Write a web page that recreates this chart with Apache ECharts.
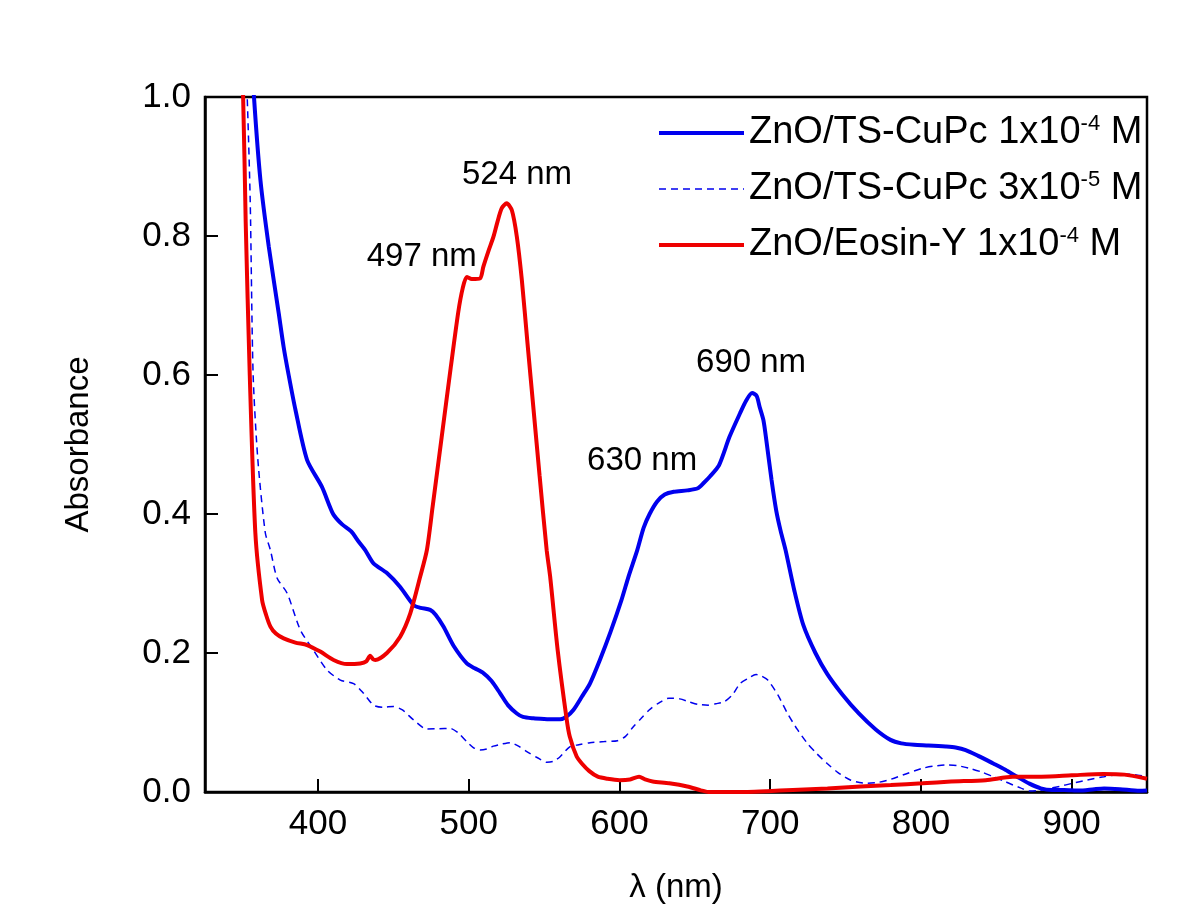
<!DOCTYPE html>
<html>
<head>
<meta charset="utf-8">
<script src="https://cdn.jsdelivr.net/npm/echarts@6/dist/echarts.min.js"></script>
<style>html,body{margin:0;padding:0;background:#fff}#c{width:1200px;height:916px}</style>
</head>
<body>
<div id="c"></div>
<script>
// ---- data (wavelength nm, absorbance) ----
const seriesNames = ['ZnO/TS-CuPc 1x10-4 M', 'ZnO/TS-CuPc 3x10-5 M', 'ZnO/Eosin-Y 1x10-4 M'];
const legendRich = ['ZnO/TS-CuPc 1x10{sup|-4} M', 'ZnO/TS-CuPc 3x10{sup|-5} M', 'ZnO/Eosin-Y 1x10{sup|-4} M'];
const xTicks = [400, 500, 600, 700, 800, 900];
const yTicks = [0, 0.2, 0.4, 0.6, 0.8, 1.0];

const cupc4X = [355, 357.5, 361.8, 367.3, 373.9, 377.2, 380.5, 385, 392.7, 402.6, 410, 416, 422, 427, 431.3, 436.8, 445.7, 454.5, 463.4, 468, 474.4, 478, 483.2, 490, 498.7, 504, 509.7, 515, 520.8, 526, 531.9, 536, 542.9, 550, 556, 560.6, 564.6, 569.4, 575, 580.4, 587, 594, 601.3, 606, 611.8, 616, 620, 625, 630, 636, 645, 652, 656, 660, 666, 673, 680, 684, 688, 691, 693, 695.5, 697.5, 700.9, 704, 707, 710.2, 716, 722, 730, 737.8, 748, 758.8, 770, 779.8, 787, 795.5, 805, 816.5, 823, 829.7, 838, 848, 856, 863.8, 872, 879.5, 887, 895, 905, 915, 921.5, 932, 945, 950];
const cupc4Y = [1.1, 1.0, 0.88, 0.785, 0.689, 0.64, 0.60, 0.55, 0.478, 0.439, 0.40, 0.385, 0.375, 0.36, 0.348, 0.329, 0.315, 0.295, 0.269, 0.265, 0.262, 0.255, 0.238, 0.21, 0.185, 0.178, 0.171, 0.16, 0.142, 0.125, 0.113, 0.108, 0.106, 0.105, 0.1045, 0.1045, 0.108, 0.118, 0.137, 0.156, 0.19, 0.23, 0.276, 0.31, 0.348, 0.38, 0.40, 0.418, 0.428, 0.432, 0.434, 0.437, 0.445, 0.454, 0.47, 0.511, 0.545, 0.563, 0.574, 0.57, 0.554, 0.535, 0.505, 0.449, 0.405, 0.375, 0.348, 0.29, 0.24, 0.20, 0.17, 0.14, 0.113, 0.09, 0.075, 0.07, 0.068, 0.067, 0.0654, 0.064, 0.0604, 0.052, 0.041, 0.032, 0.022, 0.012, 0.0053, 0.003, 0.003, 0.002, 0.004, 0.005, 0.004, 0.0017, 0.002];

const cupc5X = [351, 353, 355, 356.9, 360, 365, 368.4, 372.8, 379.5, 388.3, 397, 406, 414.8, 423.6, 430.2, 436.8, 443, 450, 456, 463.4, 472.2, 480, 487.7, 493, 498.7, 503, 507.5, 512, 516.4, 522, 527.4, 533, 538.5, 545, 551.8, 556, 560.6, 567, 573, 580.4, 590, 598.7, 604, 609.2, 614, 619.7, 626, 632.8, 640, 645.9, 652, 659, 664, 669.6, 675, 680, 685, 690.6, 694, 698.4, 705, 711.5, 718, 724.7, 731, 737.8, 745, 753.5, 764, 772, 779.8, 790, 800.8, 808, 816.5, 824, 832.3, 840, 848, 855, 861.2, 866, 871.7, 878, 884.8, 892, 900.5, 910, 921.5, 934.6, 942, 950];
const cupc5Y = [1.1, 1.0, 0.85, 0.603, 0.48, 0.373, 0.348, 0.308, 0.286, 0.233, 0.204, 0.1755, 0.161, 0.156, 0.142, 0.125, 0.122, 0.123, 0.118, 0.1036, 0.0906, 0.091, 0.0916, 0.085, 0.0724, 0.064, 0.0604, 0.062, 0.066, 0.069, 0.071, 0.066, 0.058, 0.05, 0.0427, 0.044, 0.0508, 0.065, 0.068, 0.071, 0.0725, 0.0738, 0.08, 0.094, 0.105, 0.118, 0.128, 0.135, 0.134, 0.130, 0.126, 0.125, 0.127, 0.130, 0.14, 0.156, 0.163, 0.169, 0.167, 0.161, 0.14, 0.113, 0.09, 0.0699, 0.055, 0.041, 0.028, 0.017, 0.0125, 0.014, 0.0182, 0.026, 0.034, 0.037, 0.039, 0.038, 0.034, 0.029, 0.022, 0.016, 0.010, 0.006, 0.0014, 0.002, 0.005, 0.008, 0.0125, 0.017, 0.022, 0.026, 0.025, 0.022];

const eosinX = [348, 350.3, 352, 354.7, 358.4, 362.9, 365.5, 368.4, 372, 377.2, 385, 392.7, 401.5, 410.3, 419.2, 428, 432, 434.6, 436.5, 438, 445.7, 454.5, 461.2, 467.8, 472.2, 476, 482, 488, 493, 496, 498.7, 502, 507.5, 509.7, 513, 516.4, 519, 521.9, 525.2, 528.6, 531.9, 535.2, 539, 543, 547, 551.7, 554, 559, 565, 567, 571.6, 575, 580, 585.6, 592, 600, 607, 613, 617, 622, 633, 645, 654, 659, 670, 685, 698, 715, 738, 760, 780, 801, 820, 843, 861, 880, 900, 921, 935, 950];
const eosinY = [1.1, 1.0, 0.82, 0.6, 0.373, 0.276, 0.255, 0.238, 0.228, 0.221, 0.215, 0.2115, 0.202, 0.19, 0.184, 0.185, 0.188, 0.196, 0.191, 0.19, 0.2, 0.2235, 0.257, 0.31, 0.348, 0.41, 0.51, 0.61, 0.69, 0.725, 0.741, 0.738, 0.739, 0.756, 0.778, 0.799, 0.82, 0.84, 0.847, 0.837, 0.799, 0.737, 0.645, 0.55, 0.455, 0.348, 0.31, 0.204, 0.104, 0.08, 0.051, 0.041, 0.03, 0.022, 0.019, 0.017, 0.018, 0.022, 0.018, 0.015, 0.0125, 0.008, 0.0024, 0.0, 0.0, 0.0, 0.001, 0.003, 0.005, 0.008, 0.010, 0.0125, 0.015, 0.017, 0.022, 0.022, 0.024, 0.026, 0.025, 0.019];

// peak annotations: [text, nm, absorbance] placed through the axes
const annotText = ['497 nm', '524 nm', '630 nm', '690 nm'];
const annotX = [468.8, 532, 615, 687.3];
const annotY = [0.77, 0.888, 0.476, 0.617];

// ---- chart ----
const FONT = "'Liberation Sans', Arial, Helvetica, sans-serif";
const zip = (xs, ys) => xs.map((x, i) => [x, ys[i]]);
const colors = ['#0000ee', '#0000ee', '#ee0000'];
const widths = [4, 1.5, 4];
const richMap = {};
seriesNames.forEach((n, i) => richMap[n] = legendRich[i]);

const chart = echarts.init(document.getElementById('c'), null, {renderer: 'canvas'});
const annotData = annotText.map((t, i) => ({name: t, coord: [annotX[i], annotY[i]]}));
const annotLabel = {show: true, position: 'inside', formatter: p => p.name, fontFamily: FONT, fontSize: 33, color: '#000'};

chart.setOption({
  animation: false,
  backgroundColor: '#fff',
  textStyle: {fontFamily: FONT},
  grid: {left: 205, right: 53, top: 97, bottom: 124, show: true, borderColor: '#000', borderWidth: 2.5, backgroundColor: 'transparent'},
  legend: {
    orient: 'vertical', left: 652, top: 108,
    itemWidth: 85, itemHeight: 14, itemGap: 16,
    itemStyle: {color: 'rgba(0,0,0,0)', borderWidth: 0, opacity: 0},
    data: seriesNames.map((n, i) => ({name: n, lineStyle: {width: widths[i]}})),
    formatter: n => richMap[n],
    textStyle: {fontFamily: FONT, fontSize: 38, color: '#000', lineHeight: 40,
      rich: {sup: {fontFamily: FONT, fontSize: 22, lineHeight: 20, verticalAlign: 'top', color: '#000'}}}
  },
  xAxis: {
    type: 'value', min: 325, max: 950,
    name: 'λ (nm)', nameLocation: 'middle', nameGap: 79,
    nameTextStyle: {fontFamily: FONT, fontSize: 33, color: '#000'},
    axisLine: {show: true, onZero: false, lineStyle: {color: '#000', width: 2.5}},
    axisTick: {show: true, inside: true, length: 13, lineStyle: {color: '#000', width: 2}, customValues: xTicks},
    axisLabel: {show: true, margin: 15, fontFamily: FONT, fontSize: 35, color: '#000', customValues: xTicks, formatter: v => String(v)},
    splitLine: {show: false}
  },
  yAxis: {
    type: 'value', min: 0, max: 1.0, interval: 0.2,
    name: 'Absorbance', nameLocation: 'middle', nameGap: 110, nameRotate: 90,
    nameTextStyle: {fontFamily: FONT, fontSize: 33, color: '#000'},
    axisLine: {show: true, onZero: false, lineStyle: {color: '#000', width: 2.5}},
    axisTick: {show: true, inside: true, length: 13, lineStyle: {color: '#000', width: 2}},
    axisLabel: {show: true, margin: 14, fontFamily: FONT, fontSize: 35, color: '#000', formatter: v => v.toFixed(1)},
    splitLine: {show: false}
  },
  series: [
    {name: seriesNames[0], type: 'line', data: zip(cupc4X, cupc4Y), symbol: 'none', showSymbol: false, clip: true,
     smooth: 0.25,
     lineStyle: {color: colors[0], width: widths[0]}, itemStyle: {color: colors[0]}, z: 3,
     markPoint: {symbol: 'circle', symbolSize: 1, itemStyle: {color: 'rgba(0,0,0,0)'}, silent: true,
       label: annotLabel, data: annotData.slice(2)}},
    {name: seriesNames[1], type: 'line', data: zip(cupc5X, cupc5Y), symbol: 'none', showSymbol: false, clip: true,
     smooth: 0.25,
     lineStyle: {color: colors[1], width: widths[1], type: [7, 5]}, itemStyle: {color: colors[1]}, z: 2},
    {name: seriesNames[2], type: 'line', data: zip(eosinX, eosinY), symbol: 'none', showSymbol: false, clip: true,
     smooth: 0.25,
     lineStyle: {color: colors[2], width: widths[2]}, itemStyle: {color: colors[2]}, z: 4,
     markPoint: {symbol: 'circle', symbolSize: 1, itemStyle: {color: 'rgba(0,0,0,0)'}, silent: true,
       label: annotLabel, data: annotData.slice(0, 2)}}
  ]
});
</script>
</body>
</html>
